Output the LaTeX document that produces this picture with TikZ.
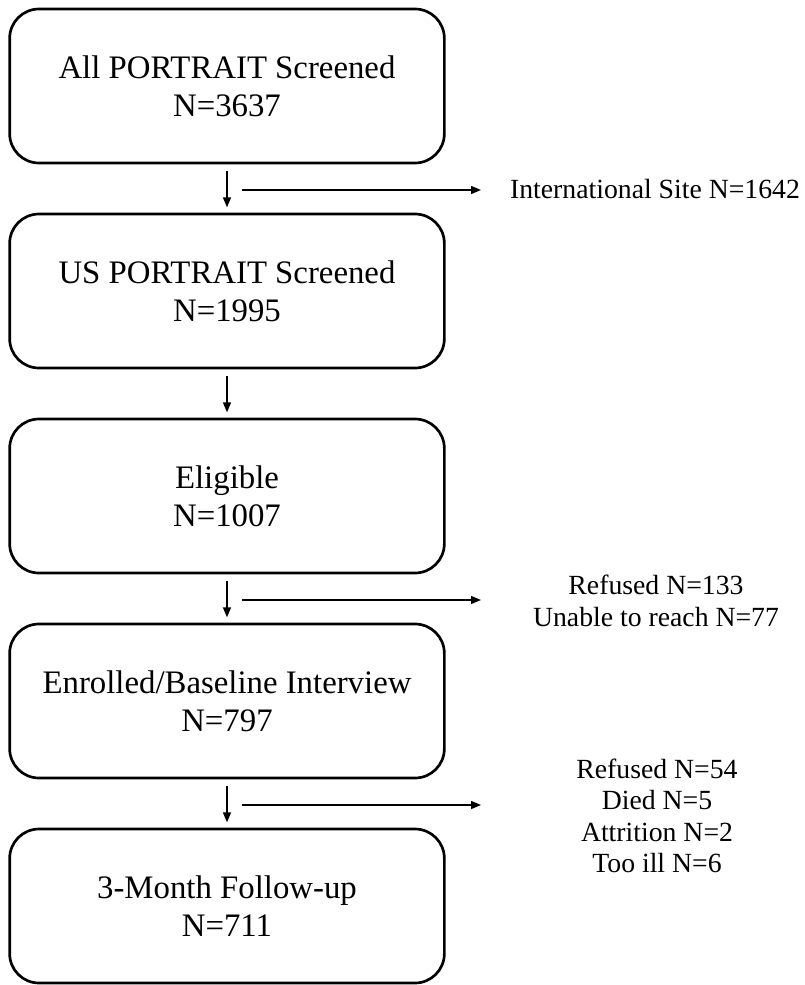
\documentclass[tikz,border=0pt]{standalone}
\usepackage{fontspec}
\setmainfont{Liberation Serif}
\usetikzlibrary{arrows.meta}

\begin{document}
\begin{tikzpicture}[x=0.75pt, y=-0.75pt]
    \def\cx{227}
    \def\gap{205}
    \tikzset{stage/.style={draw, line width=2pt, rounded corners=22pt, align=center,
                    minimum width=326pt, minimum height=115.5pt,
                    font=\fontsize{24.6}{28.5}\selectfont},
             note/.style={align=center, inner sep=0pt, font=\fontsize{20.8}{23.5}\selectfont},
             flow/.style={line width=1.1pt, -{Triangle[length=7.5pt,width=6pt]}}}
    \useasboundingbox (0,0) rectangle (804,985);
    % boxes down the middle
    \foreach[count=\i, evaluate={\cy=86+\gap*(\i-1)}] \t in {{All PORTRAIT Screened\\N=3637},
            {US PORTRAIT Screened\\N=1995}, {Eligible\\N=1007},
            {Enrolled/Baseline Interview\\N=797}, {3-Month Follow-up\\N=711}}
        \node[stage] (s\i) at (\cx,\cy) {\t};
    \foreach[evaluate={\j=int(\i+1)}] \i in {1,...,4}
        \draw[flow, shorten <=5pt, shorten >=4pt] (s\i) -- (s\j);
    % exclusions to the right
    \foreach[evaluate={\ey=86+\gap*(\i-1)+104}] \i in {1,3,4}{
        \coordinate (a\i) at (242,\ey);
        \coordinate (b\i) at (481,\ey);
        \draw[flow] (a\i) -- (b\i);
    }
    \node[note] (x1) at (655,189) {International Site N=1642};
    \node[note] (x3) at (656,601) {Refused N=133\\Unable to reach N=77};
    \node[note] (x4) at (657,816) {Refused N=54\\Died N=5\\Attrition N=2\\Too ill N=6};
\end{tikzpicture}
\end{document}
